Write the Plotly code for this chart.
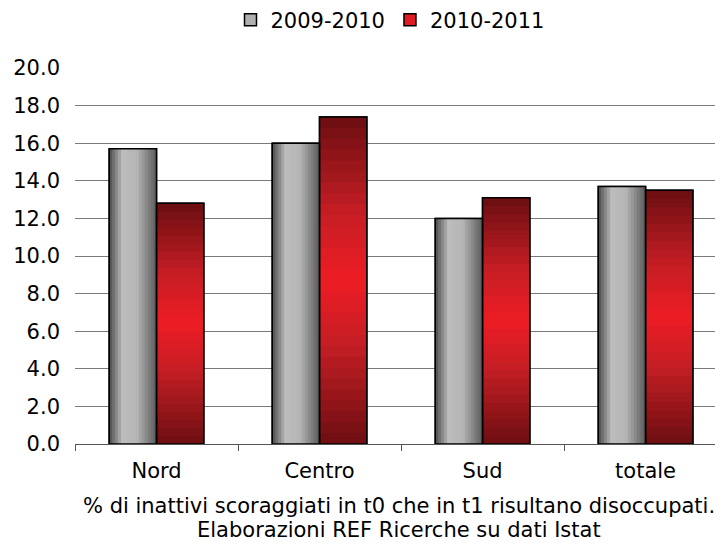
import plotly.graph_objects as go

categories = ["Nord", "Centro", "Sud", "totale"]
series_names = ["2009-2010", "2010-2011"]
values_2009_2010 = [15.7, 16.0, 12.0, 13.7]
values_2010_2011 = [12.8, 17.4, 13.1, 13.5]
y_ticks = [0, 2, 4, 6, 8, 10, 12, 14, 16, 18, 20]
footer_lines = ["% di inattivi scoraggiati in t0 che in t1 risultano disoccupati.",
                "Elaborazioni REF Ricerche su dati Istat"]

FONT = "DejaVu Sans"
FS = 21
BAR_W = 0.29
# the page body adds an 8px margin, so the figure is shrunk by that amount
W, H = 715, 538
ML, MT, MB = 67, 60, 102
PLOT_H = H - MT - MB


def interp(stops, t):
    for (t0, c0), (t1, c1) in zip(stops, stops[1:]):
        if t0 <= t <= t1:
            f = (t - t0) / (t1 - t0) if t1 > t0 else 0
            c = [round(a + (b - a) * f) for a, b in zip(c0, c1)]
            return "rgb(%d,%d,%d)" % tuple(c)
    c = stops[-1][1]
    return "rgb(%d,%d,%d)" % tuple(c)


gray_stops = [(0.0, (75, 75, 75)), (0.28, (188, 188, 188)), (0.58, (182, 182, 182)), (1.0, (90, 90, 90))]
red_stops = [(0.0, (108, 14, 17)), (0.3, (195, 30, 36)), (0.5, (237, 28, 36)), (0.7, (200, 30, 36)), (1.0, (106, 14, 17))]

fig = go.Figure()

# legend / base traces
fig.add_trace(go.Bar(x=categories, y=values_2009_2010, name=series_names[0],
                     offset=-BAR_W, width=BAR_W,
                     marker=dict(color="rgb(175,175,175)", line=dict(color="black", width=1.5)),
                     hoverinfo="skip"))
fig.add_trace(go.Bar(x=categories, y=values_2010_2011, name=series_names[1],
                     offset=0, width=BAR_W,
                     marker=dict(color="rgb(225,27,34)", line=dict(color="black", width=1.5)),
                     hoverinfo="skip"))

# horizontal gradient strips for gray series
NH = 16
sw = BAR_W / NH
for i in range(NH):
    t = (i + 0.5) / NH
    fig.add_trace(go.Bar(x=categories, y=values_2009_2010,
                         offset=-BAR_W + i * sw, width=min(sw * 1.3, BAR_W - i * sw),
                         marker=dict(color=interp(gray_stops, t), line=dict(width=0)),
                         showlegend=False, hoverinfo="skip"))

# vertical gradient segments for red series
NV = 30
for i in range(NV):
    t = (i + 0.5) / NV
    bases = [v * i / NV for v in values_2010_2011]
    heights = [min(v / NV * 1.3, v - b) for v, b in zip(values_2010_2011, bases)]
    fig.add_trace(go.Bar(x=categories, y=heights, base=bases,
                         offset=0, width=BAR_W,
                         marker=dict(color=interp(red_stops, t), line=dict(width=0)),
                         showlegend=False, hoverinfo="skip"))

# outlines
for vals, off in ((values_2009_2010, -BAR_W), (values_2010_2011, 0)):
    fig.add_trace(go.Bar(x=categories, y=vals, offset=off, width=BAR_W,
                         marker=dict(color="rgba(0,0,0,0)", line=dict(color="black", width=1.5)),
                         showlegend=False, hoverinfo="skip"))

fig.update_layout(
    width=W, height=H,
    margin=dict(l=ML, r=0, t=MT, b=MB, autoexpand=False),
    paper_bgcolor="white", plot_bgcolor="white",
    barmode="overlay",
    font=dict(family=FONT, size=FS, color="black"),
    showlegend=True,
    legend=dict(orientation="h", x=382 / W, xref="container", xanchor="center",
                y=1 - 12 / H, yref="container", yanchor="middle",
                font=dict(size=FS), itemwidth=30, tracegroupgap=0,
                bgcolor="rgba(0,0,0,0)"),
    xaxis=dict(type="category", categoryorder="array", categoryarray=categories,
               range=[-0.5, 3.475], showgrid=False, showline=True, linecolor="#555555",
               linewidth=1, ticks="outside", tickson="boundaries", ticklen=6,
               tickcolor="#555555", tickfont=dict(size=FS), automargin=False,
               ticklabelstandoff=8),
    yaxis=dict(range=[0, 20], tickvals=y_ticks, tickformat=".1f", showgrid=True,
               gridcolor="#7a7a7a", gridwidth=1, zeroline=False, showline=False,
               ticks="", ticklabelstandoff=14, tickfont=dict(size=FS), automargin=False),
    annotations=[
        dict(text=footer_lines[0], xref="paper", yref="paper", x=0.5, y=-62 / PLOT_H,
             xanchor="center", yanchor="middle", showarrow=False, font=dict(size=FS)),
        dict(text=footer_lines[1], xref="paper", yref="paper", x=0.5, y=-86 / PLOT_H,
             xanchor="center", yanchor="middle", showarrow=False, font=dict(size=FS)),
    ],
)

fig.write_html("out.html")
